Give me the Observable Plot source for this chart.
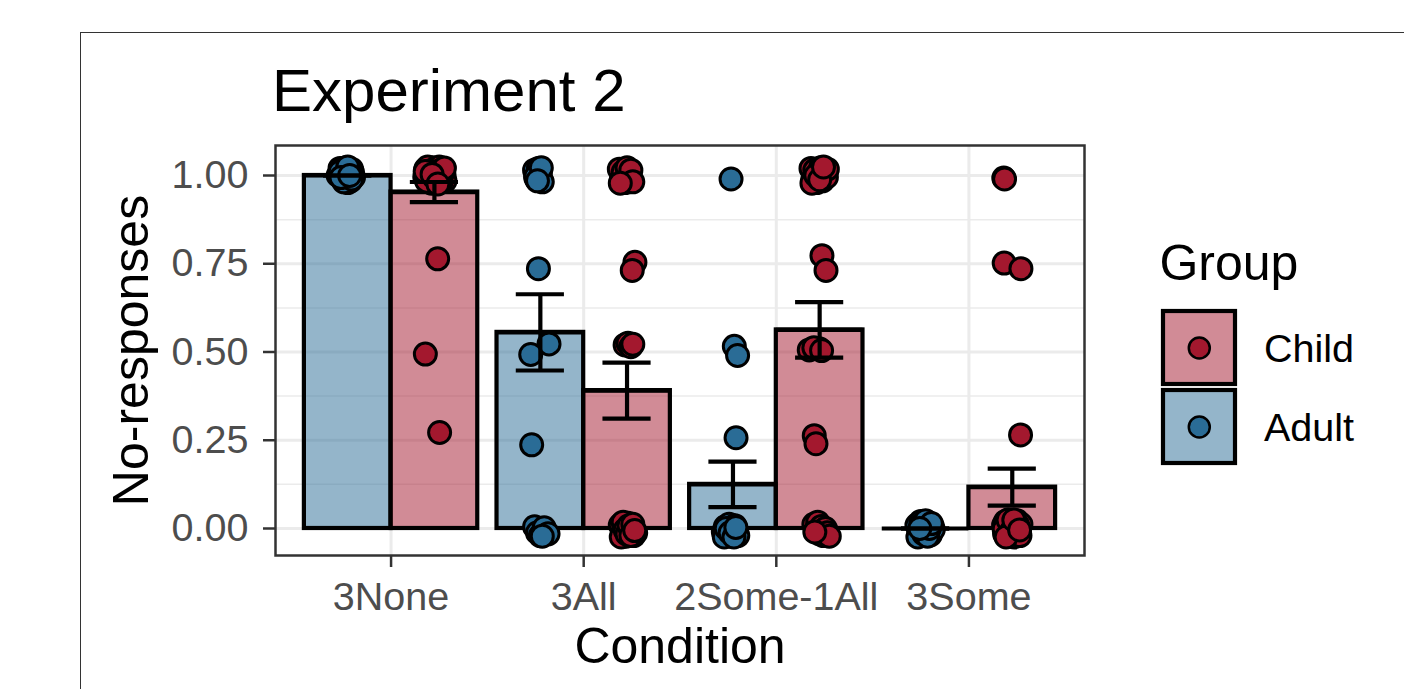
<!DOCTYPE html>
<html><head><meta charset="utf-8">
<script src="https://cdn.jsdelivr.net/npm/d3@7"></script>
<script src="https://cdn.jsdelivr.net/npm/@observablehq/plot@0.6"></script>
<style>
html,body{margin:0;padding:0;background:#fff;width:1404px;height:689px;overflow:hidden;font-family:"Liberation Sans",Arial,Helvetica,sans-serif;}
#outer{position:absolute;left:80px;top:32px;width:1400px;height:700px;border-top:1.5px solid #333;border-left:1.5px solid #333;box-sizing:border-box;}
#title{position:absolute;left:272px;top:61px;font-size:60px;line-height:60px;color:#000;white-space:nowrap;}
#chart{position:absolute;left:0;top:135px;}
#legend{position:absolute;left:1140px;top:230px;}
</style>
</head><body>
<div id="outer"></div>
<div id="title">Experiment 2</div>
<div id="chart"></div>
<svg id="legend" width="260" height="260"></svg>
<script>
// ---- data ----
const conditions = ["3None", "3All", "2Some-1All", "3Some"];
const groups = ["Adult", "Child"];          // dodge order (left, right)
const legendOrder = ["Child", "Adult"];
const groupColors = ["#2A6C96", "#A3182E"]; // Adult, Child
const yTicks = [0, 0.25, 0.5, 0.75, 1];
const yMinor = [0.125, 0.375, 0.625, 0.875];

// each participant: [response, horizontal jitter, vertical jitter]
const adult_3None = [[1,-.04,.02],[1,-.02,.012],[1,.01,-.01],[1,.02,.018],[1,-.05,0],[1,0,-.02],[1,.025,.008],[1,-.03,.015],[1,.015,-.015],[1,-.01,.022],[1,.03,-.005],[1,-.02,-.018],[1,.005,.004],[1,-.04,.01],[1,.02,-.01],[1,0,.024],[1,-.035,-.006],[1,.01,0]];
const child_3None = [[1,-.045,.018],[1,-.03,.005],[1,-.02,-.012],[1,-.01,.022],[1,0,.01],[1,.01,-.02],[1,.02,.015],[1,.03,-.005],[1,.04,.02],[1,.05,.002],[1,.055,-.015],[1,-.05,-.004],[1,-.035,.024],[1,-.015,-.022],[1,.005,.019],[1,.015,-.008],[1,.025,.024],[1,.035,-.018],[1,.045,.009],[1,-.04,-.016],[1,-.025,.013],[1,-.005,-.003],[1,.012,.007],[1,.028,-.012],[1,.038,.016],[1,-.048,.011],[1,.052,.021],[1,-.012,.003],[1,.018,-.024],[.75,.017,.014],[.5,-.047,-.006],[.25,.027,.022]];
const adult_3All = [[1,-.03,.015],[1,-.02,-.01],[1,-.01,.02],[1,0,.005],[1,.01,-.018],[1,-.025,-.004],[1,.005,.022],[1,-.015,-.015],[.75,-.01,-.014],[.5,.045,.023],[.5,-.05,-.007],[.25,-.045,-.013],[0,-.03,.005],[0,-.015,-.012],[0,0,-.02],[0,.02,.002],[0,.04,-.015],[0,.01,-.022]];
const child_3All = [[1,-.04,.018],[1,-.03,-.012],[1,-.02,.01],[1,-.01,-.02],[1,0,.022],[1,.01,-.005],[1,.02,.015],[1,.03,-.018],[1,-.035,-.022],[.75,.041,.004],[.75,.027,-.019],[.5,-.01,.02],[.5,.005,.025],[.5,.02,.015],[.5,.03,.022],[0,-.035,.01],[0,-.025,-.015],[0,-.015,.005],[0,-.005,-.022],[0,.005,.015],[0,.015,-.008],[0,.025,.002],[0,.035,-.02],[0,.045,-.012],[0,-.03,-.024],[0,-.02,.018],[0,-.01,-.004],[0,0,-.016],[0,.01,.008],[0,.02,-.02],[0,.03,.012],[0,.04,-.006]];
const adult_2Some1All = [[1,-.01,-.01],[.5,.007,.016],[.5,.024,-.01],[.25,.016,.007],[0,-.05,-.01],[0,-.04,.005],[0,-.03,-.018],[0,-.02,.012],[0,-.01,-.022],[0,0,-.005],[0,.01,.008],[0,.02,-.015],[0,.025,-.02],[0,-.045,-.024],[0,-.035,0],[0,-.015,-.012],[0,.005,-.024],[0,.015,.003]];
const child_2Some1All = [[1,-.045,.02],[1,-.035,-.01],[1,-.025,.015],[1,-.015,-.02],[1,-.005,.005],[1,.005,.022],[1,.015,-.015],[1,.025,.01],[1,.035,-.005],[1,.04,.018],[1,-.04,-.022],[1,-.02,0],[1,0,-.012],[1,.02,.024],[.75,.012,.023],[.75,.033,-.019],[.5,-.054,.006],[.5,-.002,.009],[.5,-.03,.012],[.5,.01,.004],[.25,-.028,.013],[.25,-.019,-.01],[0,-.03,.012],[0,-.02,-.005],[0,-.01,.018],[0,0,-.015],[0,.01,.006],[0,.02,-.02],[0,.03,0],[0,.04,-.012],[0,.05,-.022],[0,-.025,-.01]];
const adult_3Some = [[0,-.045,.01],[0,-.035,-.012],[0,-.025,.02],[0,-.015,-.02],[0,-.005,.004],[0,.005,-.008],[0,.015,.016],[0,.025,-.018],[0,.035,.006],[0,.04,-.003],[0,-.04,-.024],[0,-.02,.012],[0,-.01,-.015],[0,0,.022],[0,.01,-.022],[0,.02,0],[0,.03,.014],[0,-.03,0]];
const child_3Some = [[1,-.044,-.007],[1,-.04,-.01],[.75,-.042,.002],[.75,.045,-.014],[.25,.043,.015],[0,-.045,.01],[0,-.04,-.015],[0,-.035,.02],[0,-.03,-.005],[0,-.025,.012],[0,-.02,-.022],[0,-.015,.004],[0,-.01,-.012],[0,-.005,.018],[0,0,-.018],[0,.005,.008],[0,.01,-.024],[0,.015,.015],[0,.02,-.008],[0,.025,.022],[0,.03,-.015],[0,.035,.003],[0,.04,-.02],[0,.045,.012],[0,-.042,-.002],[0,-.022,.024],[0,-.002,-.006],[0,.012,0],[0,.028,.01],[0,-.032,-.024],[0,.008,.024],[0,.038,-.004]];

const cells = [
  ["3None","Adult",adult_3None],["3None","Child",child_3None],
  ["3All","Adult",adult_3All],["3All","Child",child_3All],
  ["2Some-1All","Adult",adult_2Some1All],["2Some-1All","Child",child_2Some1All],
  ["3Some","Adult",adult_3Some],["3Some","Child",child_3Some]
];

// ---- derived tables ----
const dodge = 0.45, capW = 0.125;
const pos = (cond, grp) => (conditions.indexOf(cond) + 1) + (grp === "Adult" ? -dodge / 2 : dodge / 2);
const points = [], bars = [];
for (const [cond, grp, rows] of cells) {
  const vals = rows.map(r => r[0]);
  const mean = d3.mean(vals);
  const se = d3.deviation(vals) / Math.sqrt(vals.length);
  const c = pos(cond, grp);
  bars.push({cond, grp, mean, lo: mean - se, hi: mean + se, c, x1: c - dodge / 2, x2: c + dodge / 2});
  for (const r of rows) points.push({cond, grp, x: c + r[1], y: r[0] + r[2]});
}

const font = '"Liberation Sans", Arial, Helvetica, sans-serif';
const lw = 4.2;
const plot = Plot.plot({
  width: 1100, height: 554,
  marginLeft: 275, marginRight: 16, marginTop: 10, marginBottom: 134,
  x: {domain: [0.4, 4.6]},
  y: {domain: [-0.0765, 1.085]},
  color: {domain: groups, range: groupColors},
  style: {fontFamily: font, background: "transparent", overflow: "visible"},
  marks: [
    Plot.gridY(yMinor, {stroke: "#EBEBEB", strokeOpacity: 1, strokeWidth: 1.5}),
    Plot.gridY(yTicks, {stroke: "#EBEBEB", strokeOpacity: 1, strokeWidth: 3}),
    Plot.gridX([1, 2, 3, 4], {stroke: "#EBEBEB", strokeOpacity: 1, strokeWidth: 3}),
    Plot.rect(bars, {x1: "x1", x2: "x2", y1: 0, y2: "mean", fill: "grp", fillOpacity: 0.5, stroke: "black", strokeWidth: lw}),
    Plot.ruleY(bars, {y: "mean", x1: "x1", x2: "x2", stroke: "black", strokeWidth: lw}),
    Plot.dot(points, {x: "x", y: "y", r: 11, fill: "grp", fillOpacity: 1, stroke: "black", strokeWidth: 3}),
    Plot.ruleX(bars, {x: "c", y1: "lo", y2: "hi", stroke: "black", strokeWidth: lw}),
    Plot.ruleY(bars, {y: "lo", x1: d => d.c - capW, x2: d => d.c + capW, stroke: "black", strokeWidth: lw}),
    Plot.ruleY(bars, {y: "hi", x1: d => d.c - capW, x2: d => d.c + capW, stroke: "black", strokeWidth: lw}),
    Plot.axisY(yTicks, {tickFormat: d3.format(".2f"), tickSize: 12, tickPadding: 15, fontSize: 39.5, stroke: "#333", strokeWidth: 2.5, fill: "#4D4D4D", label: null}),
    Plot.axisX([1, 2, 3, 4], {tickFormat: d => conditions[d - 1], tickSize: 12, tickPadding: 14, fontSize: 39.5, stroke: "#333", strokeWidth: 2.5, fill: "#4D4D4D", label: null}),
    Plot.text(["Condition"], {text: d => d, frameAnchor: "bottom", dy: 107, lineAnchor: "bottom", textAnchor: "middle", fontSize: 50, fill: "black"}),
    Plot.text(["No-responses"], {text: d => d, frameAnchor: "left", dx: -163, rotate: -90, lineAnchor: "top", textAnchor: "middle", fontSize: 50, fill: "black"}),
    Plot.frame({stroke: "#333", strokeWidth: 2.5})
  ]
});
document.getElementById("chart").appendChild(plot);

// ---- legend ----
const colorScale = plot.scale("color");
const colorOf = g => colorScale.range[colorScale.domain.indexOf(g)];
const lg = d3.select("#legend").style("font-family", font);
lg.append("text").attr("x", 19.4).attr("y", 50).attr("font-size", 50).attr("fill", "black").text("Group");
legendOrder.forEach((g, i) => {
  const y0 = 81 + i * 79;
  lg.append("rect").attr("x", 23).attr("y", y0).attr("width", 72).attr("height", 73).attr("fill", "white");
  lg.append("rect").attr("x", 23).attr("y", y0).attr("width", 72).attr("height", 73)
    .attr("fill", colorOf(g)).attr("fill-opacity", 0.5).attr("stroke", "black").attr("stroke-width", 4.2);
  lg.append("circle").attr("cx", 59.3).attr("cy", y0 + 37).attr("r", 10.5)
    .attr("fill", colorOf(g)).attr("stroke", "black").attr("stroke-width", 2.5);
  lg.append("text").attr("x", 124).attr("y", y0 + 51).attr("font-size", 39.5).attr("fill", "black").text(g);
});
</script>
</body></html>
